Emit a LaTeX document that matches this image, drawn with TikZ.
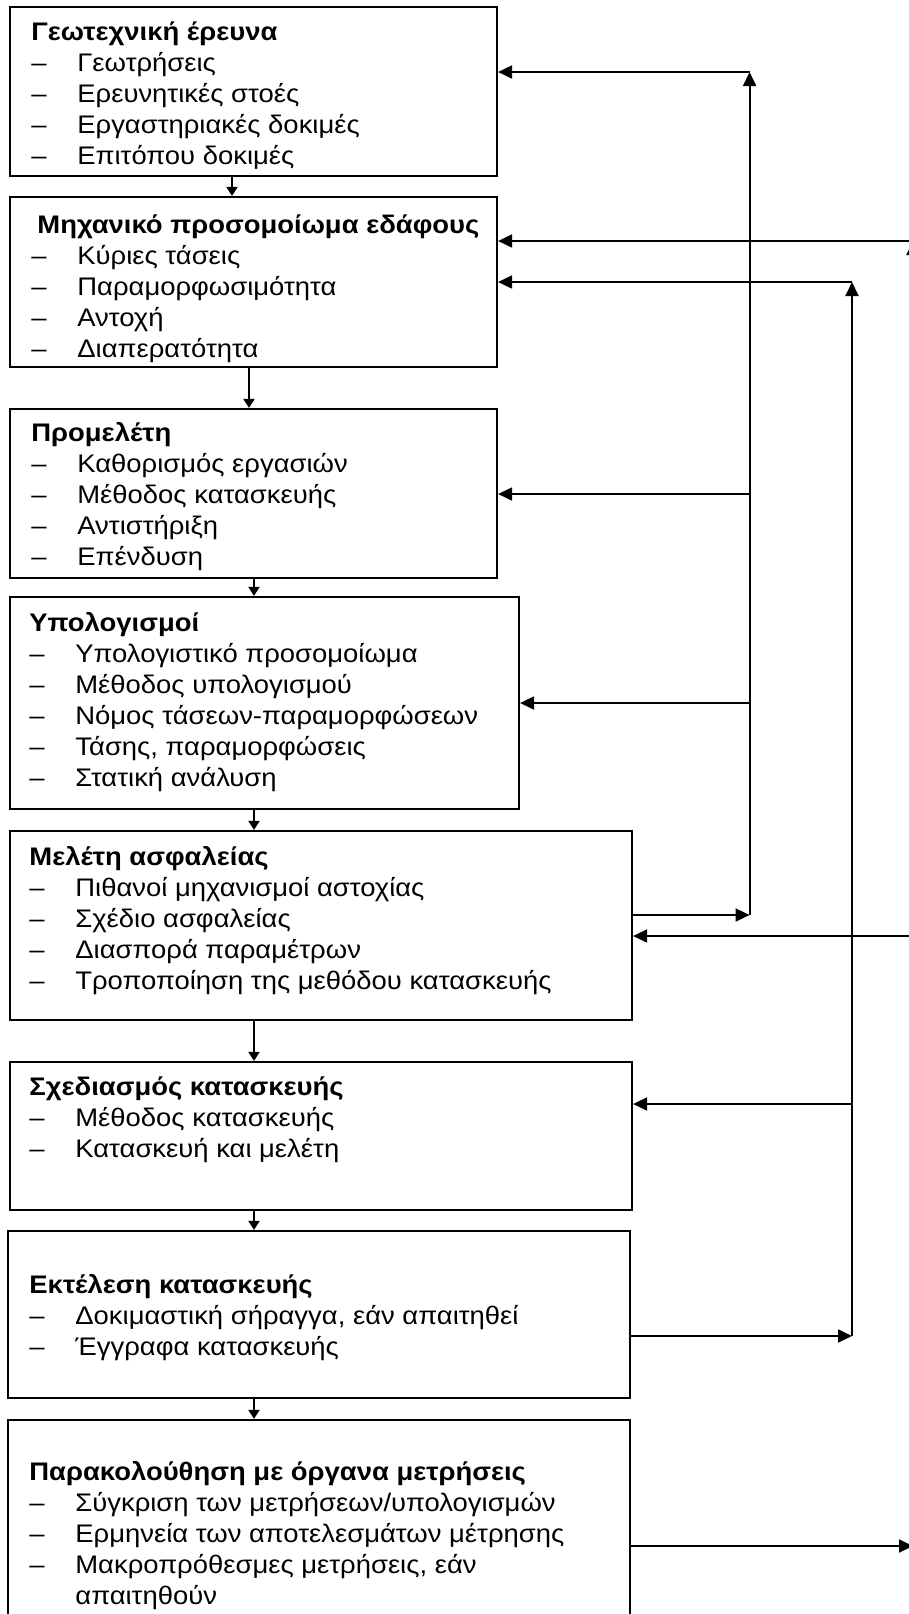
\documentclass[tikz,border=0pt]{standalone}
\usepackage{fontspec}
\setmainfont{Liberation Sans}[FakeStretch=1.08]
\usetikzlibrary{arrows.meta,fit}
\begin{document}
\begin{tikzpicture}[x=0.5pt,y=-0.5pt,
  box/.style={draw, line width=1.1pt, inner sep=0pt, rectangle},
  txt/.style={anchor=base west, inner sep=0pt, font=\fontsize{12.7pt}{15.5pt}\selectfont},
  arr/.style={line width=0.95pt, -{Triangle[length=7pt,width=6.5pt]}},
  darr/.style={line width=0.95pt, -{Triangle[length=4.5pt,width=5.5pt]}}]
\useasboundingbox (0,0) rectangle (909,1614);
\clip (0,0) rectangle (909,1614);
% boxes
\node[box, fit={(10,7)(497,176)}] (b1) {};
\node[box, fit={(10,197)(497,367)}] (b2) {};
\node[box, fit={(10,409)(497,578)}] (b3) {};
\node[box, fit={(10,597)(519,809)}] (b4) {};
\node[box, fit={(10,831)(632,1020)}] (b5) {};
\node[box, fit={(10,1062)(632,1210)}] (b6) {};
\node[box, fit={(8,1231)(630,1398)}] (b7) {};
\node[box, fit={(8,1420)(630,1660)}] (b8) {};
% texts
\node[txt] (t1) at (31,40) {\begin{tabular}[t]{@{}p{23pt}@{}l@{}}
\multicolumn{2}{@{}l@{}}{\bfseries Γεωτεχνική έρευνα}\\
– & Γεωτρήσεις\\
– & Ερευνητικές στοές\\
– & Εργαστηριακές δοκιμές\\
– & Επιτόπου δοκιμές
\end{tabular}};
\node[txt] (t2) at (31,233) {\begin{tabular}[t]{@{}p{23pt}@{}l@{}}
\multicolumn{2}{@{}l@{}}{\hspace*{3pt}\bfseries Μηχανικό προσομοίωμα εδάφους}\\
– & Κύριες τάσεις\\
– & Παραμορφωσιμότητα\\
– & Αντοχή\\
– & Διαπερατότητα
\end{tabular}};
\node[txt] (t3) at (31,441) {\begin{tabular}[t]{@{}p{23pt}@{}l@{}}
\multicolumn{2}{@{}l@{}}{\bfseries Προμελέτη}\\
– & Καθορισμός εργασιών\\
– & Μέθοδος κατασκευής\\
– & Αντιστήριξη\\
– & Επένδυση
\end{tabular}};
\node[txt] (t4) at (29,631) {\begin{tabular}[t]{@{}p{23pt}@{}l@{}}
\multicolumn{2}{@{}l@{}}{\bfseries Υπολογισμοί}\\
– & Υπολογιστικό προσομοίωμα\\
– & Μέθοδος υπολογισμού\\
– & Νόμος τάσεων-παραμορφώσεων\\
– & Τάσης, παραμορφώσεις\\
– & Στατική ανάλυση
\end{tabular}};
\node[txt] (t5) at (29,865) {\begin{tabular}[t]{@{}p{23pt}@{}l@{}}
\multicolumn{2}{@{}l@{}}{\bfseries Μελέτη ασφαλείας}\\
– & Πιθανοί μηχανισμοί αστοχίας\\
– & Σχέδιο ασφαλείας\\
– & Διασπορά παραμέτρων\\
– & Τροποποίηση της μεθόδου κατασκευής
\end{tabular}};
\node[txt] (t6) at (29,1095) {\begin{tabular}[t]{@{}p{23pt}@{}l@{}}
\multicolumn{2}{@{}l@{}}{\bfseries Σχεδιασμός κατασκευής}\\
– & Μέθοδος κατασκευής\\
– & Κατασκευή και μελέτη
\end{tabular}};
\node[txt] (t7) at (29,1293) {\begin{tabular}[t]{@{}p{23pt}@{}l@{}}
\multicolumn{2}{@{}l@{}}{\bfseries Εκτέλεση κατασκευής}\\
– & Δοκιμαστική σήραγγα, εάν απαιτηθεί\\
– & Έγγραφα κατασκευής
\end{tabular}};
\node[txt] (t8) at (29,1480) {\begin{tabular}[t]{@{}p{23pt}@{}l@{}}
\multicolumn{2}{@{}l@{}}{\bfseries Παρακολούθηση με όργανα μετρήσεις}\\
– & Σύγκριση των μετρήσεων/υπολογισμών\\
– & Ερμηνεία των αποτελεσμάτων μέτρησης\\
– & Μακροπρόθεσμες μετρήσεις, εάν\\
 & απαιτηθούν
\end{tabular}};
% down arrows
\coordinate (d12) at (232,0);
\coordinate (d23) at (249,0);
\coordinate (dd) at (254,0);
\draw[darr] (b1.south -| d12) -- (b2.north -| d12);
\draw[darr] (b2.south -| d23) -- (b3.north -| d23);
\draw[darr] (b3.south -| dd) -- (b4.north -| dd);
\draw[darr] (b4.south -| dd) -- (b5.north -| dd);
\draw[darr] (b5.south -| dd) -- (b6.north -| dd);
\draw[darr] (b6.south -| dd) -- (b7.north -| dd);
\draw[darr] (b7.south -| dd) -- (b8.north -| dd);
% feedback line A
\coordinate (A0) at (749.6,72);
\coordinate (A3) at (749.6,494);
\coordinate (A4) at (749.6,703);
\coordinate (A5) at (749.6,915);
\draw[arr] (b5.east |- A5) -- (A5);
\draw[arr] (A5) -- (A0);
\draw[arr] (A0) -- (b1.east |- A0);
\draw[arr] (A3) -- (b3.east |- A3);
\draw[arr] (A4) -- (b4.east |- A4);
% feedback line B
\coordinate (B0) at (852,282);
\coordinate (B6) at (852,1104);
\coordinate (B7) at (852,1336);
\draw[arr] (b7.east |- B7) -- (B7);
\draw[arr] (B7) -- (B0);
\draw[arr] (B0) -- (b2.east |- B0);
\draw[arr] (B6) -- (b6.east |- B6);
% feedback line C (beyond right edge)
\coordinate (C0) at (913,241);
\coordinate (C5) at (913,936);
\coordinate (C8) at (913,1546);
\draw[arr] (b8.east |- C8) -- (C8);
\draw[arr] (C8) -- (C0);
\draw[arr] (C0) -- (b2.east |- C0);
\draw[arr] (C5) -- (b5.east |- C5);
\end{tikzpicture}
\end{document}
